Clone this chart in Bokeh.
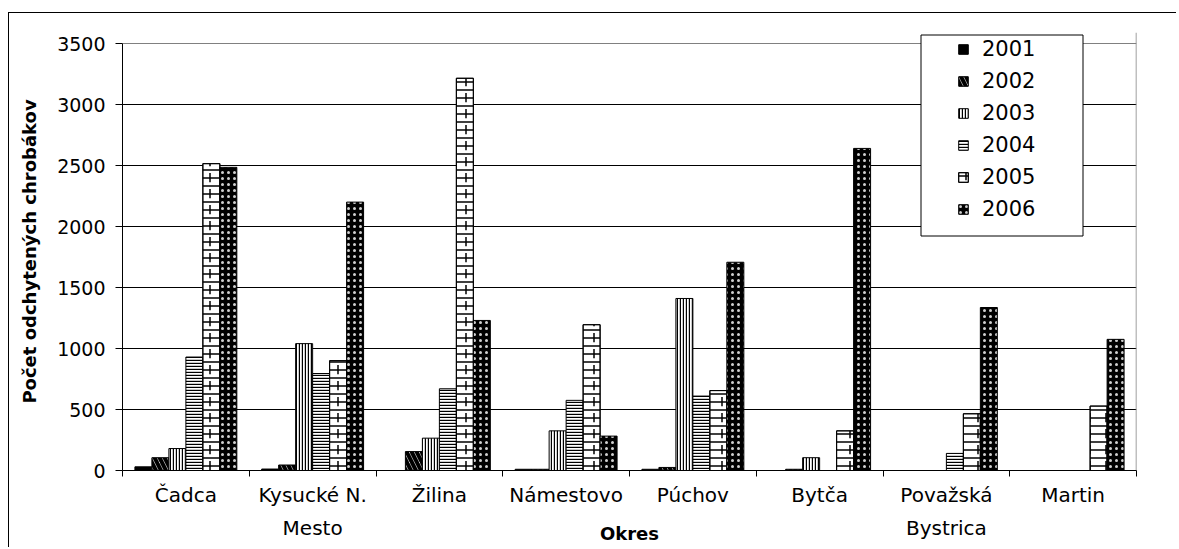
from bokeh.plotting import figure
from bokeh.models import (Range1d, FactorRange, FixedTicker, LinearAxis, Legend,
                          LegendItem, BoxAnnotation, ColumnDataSource, Grid)
from bokeh.transform import dodge
from bokeh.embed import file_html
from bokeh.resources import INLINE

# ---------------- data ----------------
okresy = ["Čadca", "Kysucké N. Mesto", "Žilina", "Námestovo", "Púchov",
          "Bytča", "Považská Bystrica", "Martin"]
okres_labels = ["Čadca", "Kysucké N.\nMesto", "Žilina", "Námestovo", "Púchov",
                "Bytča", "Považská\nBystrica", "Martin"]
years = ["2001", "2002", "2003", "2004", "2005", "2006"]
y2001 = [30, 12, 0, 10, 10, 0, 0, 0]
y2002 = [105, 45, 155, 10, 25, 10, 0, 0]
y2003 = [180, 1040, 265, 325, 1410, 105, 0, 0]
y2004 = [930, 795, 670, 575, 610, 0, 140, 0]
y2005 = [2515, 900, 3215, 1195, 655, 325, 465, 528]
y2006 = [2485, 2200, 1230, 282, 1707, 2640, 1336, 1075]
y_ticks = [0, 500, 1000, 1500, 2000, 2500, 3000, 3500]
y_max = 3500

FONT = "DejaVu Sans"

src = ColumnDataSource(dict(okres=okresy, y2001=y2001, y2002=y2002, y2003=y2003,
                            y2004=y2004, y2005=y2005, y2006=y2006))

# frame extends a little above 3500 so the legend box fits inside it
p = figure(x_range=FactorRange(*okresy), y_range=Range1d(0, y_max * 438 / 427),
           frame_width=1014, frame_height=438,
           min_border_left=113, min_border_right=40,
           min_border_top=19, min_border_bottom=66,
           output_backend="svg", toolbar_location=None,
           x_axis_location=None, background_fill_color="white",
           border_fill_color="white")
p.outline_line_color = None
p.styles = {"margin-left": "8px", "margin-top": "12px",
            "border-left": "1px solid black", "border-top": "1px solid black"}

# y axis
p.yaxis.ticker = FixedTicker(ticks=y_ticks)
p.yaxis.bounds = (0, y_max)
p.yaxis.major_tick_out = 7
p.yaxis.major_tick_in = 0
p.yaxis.minor_tick_line_color = None
p.yaxis.axis_line_color = "black"
p.yaxis.major_tick_line_color = "black"
p.yaxis.major_label_text_font = FONT
p.yaxis.major_label_text_font_size = "19px"
p.yaxis.major_label_text_color = "black"
p.yaxis.major_label_standoff = 10
p.yaxis.axis_label = "Počet odchytených chrobákov"
p.yaxis.axis_label_text_font = FONT
p.yaxis.axis_label_text_font_style = "bold"
p.yaxis.axis_label_text_font_size = "18px"
p.yaxis.axis_label_text_color = "black"
p.yaxis.axis_label_standoff = 14

p.ygrid.ticker = FixedTicker(ticks=y_ticks[1:-1])
p.ygrid.grid_line_color = "black"
p.ygrid.grid_line_width = 1
p.xgrid.grid_line_color = None
# plot-area border (top at 3500, right edge) in grey
p.add_layout(Grid(dimension=1, ticker=FixedTicker(ticks=[y_max]),
                  grid_line_color="#808080", grid_line_width=1))
p.add_layout(Grid(dimension=0, ticker=FixedTicker(ticks=[len(okresy) - 0.001]),
                  bounds=(0, y_max), grid_line_color="#808080", grid_line_width=1.5))

# x axis: ticks at category boundaries (synthetic coordinates), names as labels
n = len(okresy)
xax = LinearAxis(ticker=FixedTicker(ticks=[i + 0.5 for i in range(n)],
                                    minor_ticks=list(range(n + 1))),
                 major_label_overrides={i + 0.5: lab for i, lab in enumerate(okres_labels)})
xax.major_tick_line_color = None
xax.major_tick_out = 6
xax.minor_tick_out = 6
xax.minor_tick_in = 0
xax.minor_tick_line_color = "black"
xax.axis_line_color = "black"
xax.major_label_text_font = FONT
xax.major_label_text_font_size = "20px"
xax.major_label_text_line_height = 1.4
xax.major_label_text_color = "black"
xax.major_label_standoff = 6
xax.axis_label = "Okres"
xax.axis_label_text_font = FONT
xax.axis_label_text_font_style = "bold"
xax.axis_label_text_font_size = "18px"
xax.axis_label_text_color = "black"
xax.axis_label_standoff = -20
p.add_layout(xax, "below")

# bars
bw = 0.134
offsets = [(-2.5 + i) * bw for i in range(6)]
styles = {
    "2001": [dict(fill_color="black")],
    "2002": [dict(fill_color="white", hatch_pattern="left_diagonal_line",
                  hatch_color="black", hatch_scale=10, hatch_weight=4)],
    "2003": [dict(fill_color="white", hatch_pattern="vertical_line",
                  hatch_color="black", hatch_scale=3, hatch_weight=1.4)],
    "2004": [dict(fill_color="white", hatch_pattern="horizontal_line",
                  hatch_color="black", hatch_scale=3, hatch_weight=1.4)],
    "2005": [dict(fill_color="white", hatch_pattern="horizontal_line",
                  hatch_color="black", hatch_scale=8, hatch_weight=1.5),
             dict(fill_alpha=0, hatch_pattern="vertical_dash",
                  hatch_color="black", hatch_scale=16, hatch_weight=1.5)],
    "2006": [dict(fill_color="black", hatch_pattern="dot",
                  hatch_color="#d0d0d0", hatch_scale=6, hatch_weight=2)],
}

items = []
for yr, off in zip(years, offsets):
    rs = []
    for st in styles[yr]:
        r = p.vbar(x=dodge("okres", off, range=p.x_range), top="y" + yr, bottom=0,
                   width=bw, source=src, line_color="black", line_width=1, **st)
        rs.append(r)
    items.append(LegendItem(label=yr, renderers=rs))

# legend box
p.add_layout(BoxAnnotation(left=910.5, right=1072.5, top=20.5, bottom=221.5,
                           left_units="canvas", right_units="canvas",
                           top_units="canvas", bottom_units="canvas",
                           fill_color="white", fill_alpha=1,
                           line_color="black", line_width=1, line_alpha=1))

legend = Legend(items=items, location=(835, 249),
                label_text_font=FONT, label_text_font_size="21px",
                label_text_color="black",
                glyph_width=12, glyph_height=12, label_standoff=13,
                label_height=24, spacing=8, padding=6,
                border_line_color=None, background_fill_alpha=0)
p.add_layout(legend, "center")

open("out.html", "w").write(file_html(p, INLINE))
